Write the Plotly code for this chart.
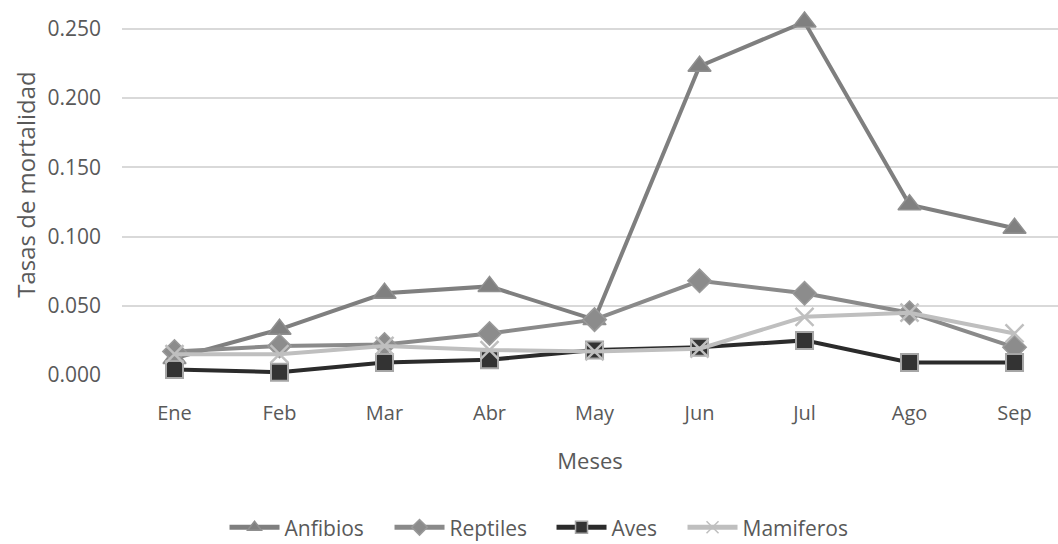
import plotly.graph_objects as go

meses = ["Ene", "Feb", "Mar", "Abr", "May", "Jun", "Jul", "Ago", "Sep"]

anfibios = [0.012, 0.033, 0.059, 0.064, 0.040, 0.223, 0.255, 0.123, 0.106]
reptiles = [0.017, 0.021, 0.022, 0.030, 0.040, 0.068, 0.059, 0.045, 0.020]
aves = [0.004, 0.002, 0.009, 0.011, 0.018, 0.020, 0.025, 0.009, 0.009]
mamiferos = [0.015, 0.015, 0.021, 0.018, 0.017, 0.019, 0.042, 0.045, 0.030]

y_ticks = [0.0, 0.05, 0.10, 0.15, 0.20, 0.25]

text_color = "#595959"
font_main = "Open Sans"

series = [
    dict(name="Anfibios", y=anfibios, line="#7f7f7f", symbol="triangle-up",
         size=20, fill="#808080", edge="#8f8f8f", edge_w=1.5, lw=100),
    dict(name="Reptiles", y=reptiles, line="#8a8a8a", symbol="diamond",
         size=18, fill="#8c8c8c", edge="#999999", edge_w=1.5, lw=97),
    dict(name="Aves", y=aves, line="#2b2b2b", symbol="square",
         size=17, fill="#333333", edge="#a6a6a6", edge_w=2, lw=66),
    dict(name="Mamiferos", y=mamiferos, line="#bfbfbf", symbol="x-thin-open",
         size=18, fill="#bfbfbf", edge="#bfbfbf", edge_w=2.5, lw=105),
]

fig = go.Figure()

for s in series:
    # data series
    fig.add_trace(go.Scatter(
        x=meses, y=s["y"], name=s["name"], mode="lines+markers",
        line=dict(color=s["line"], width=4),
        marker=dict(symbol=s["symbol"], size=s["size"], color=s["fill"],
                    line=dict(color=s["edge"], width=s["edge_w"])),
        cliponaxis=False, showlegend=False, legendgroup=s["name"],
    ))
    # legend entry with smaller markers
    fig.add_trace(go.Scatter(
        x=[None], y=[None], name=s["name"], mode="lines+markers",
        line=dict(color=s["line"], width=5),
        marker=dict(symbol=s["symbol"], size=12, color=s["fill"],
                    line=dict(color=s["edge"], width=1.5)),
        showlegend=True, legendgroup=s["name"], legendwidth=s["lw"],
    ))

# y-axis title placed as a rotated annotation
fig.add_annotation(
    text="Tasas de mortalidad", textangle=-90,
    xref="paper", yref="paper", x=-0.103, y=0.53,
    xanchor="center", yanchor="middle", showarrow=False,
    font=dict(family=font_main, size=24, color=text_color),
)

fig.update_layout(
    width=1058, height=544,
    margin=dict(l=122, r=0, t=15, b=169, autoexpand=False),
    paper_bgcolor="white", plot_bgcolor="white",
    font=dict(family=font_main, color=text_color, size=20),
    showlegend=True,
    legend=dict(
        orientation="h", xref="container", yref="container",
        x=0.509, xanchor="center", y=0.03, yanchor="middle",
        font=dict(family=font_main, size=21, color=text_color),
        itemwidth=50, tracegroupgap=0,
    ),
    xaxis=dict(
        type="category", range=[-0.5, 8.414],
        showgrid=False, showline=False, zeroline=False,
        ticks="", ticklabelstandoff=24,
        tickfont=dict(size=20, color=text_color),
        title=dict(text="Meses", font=dict(size=22, color=text_color), standoff=28),
    ),
    yaxis=dict(
        range=[0, 0.26], tickvals=y_ticks, tickformat=".3f",
        showgrid=True, gridcolor="#d9d9d9", gridwidth=1.5,
        zeroline=False, showline=False, ticks="", ticklabelstandoff=20,
        tickfont=dict(size=21, color=text_color),
    ),
)

fig.write_html("out.html")
